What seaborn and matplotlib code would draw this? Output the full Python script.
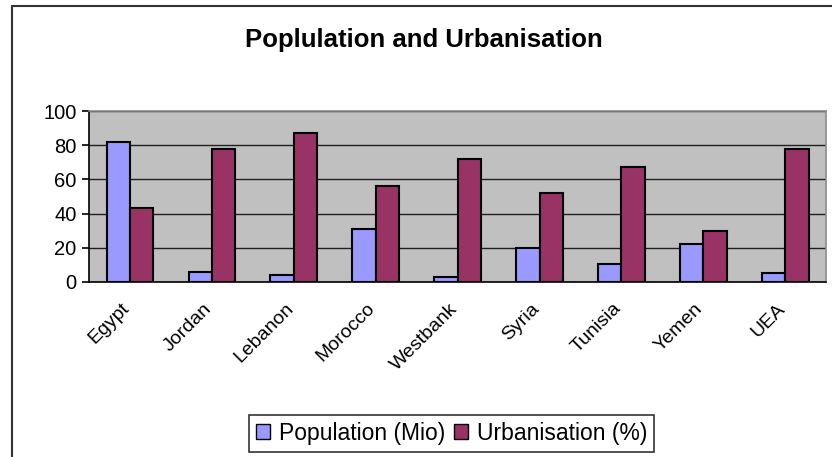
import matplotlib
matplotlib.use("Agg")
import matplotlib.pyplot as plt
import matplotlib.transforms as mtransforms
import seaborn as sns
import numpy as np
import pandas as pd
from matplotlib.patches import Patch
from matplotlib.lines import Line2D

# values
countries = ['Egypt', 'Jordan', 'Lebanon', 'Morocco', 'Westbank', 'Syria', 'Tunisia', 'Yemen', 'UEA']
population = [82, 6, 4, 31, 3, 20, 10.5, 22, 5]
urbanisation = [43, 78, 87, 56, 72, 52, 67, 30, 78]
series_names = ['Population (Mio)', 'Urbanisation (%)']
colors = ['#9999FF', '#993366']

df = pd.DataFrame({
    'country': countries * 2,
    'series': [series_names[0]] * len(countries) + [series_names[1]] * len(countries),
    'value': population + urbanisation,
})

sns.set_style('white')
plt.rcParams['font.family'] = ['Liberation Sans', 'DejaVu Sans']
plt.rcParams['text.color'] = 'black'
plt.rcParams['xtick.color'] = 'black'
plt.rcParams['ytick.color'] = 'black'
plt.rcParams['xtick.labelcolor'] = 'black'
plt.rcParams['ytick.labelcolor'] = 'black'

fig = plt.figure(figsize=(8.32, 4.57), dpi=100)
ax = fig.add_axes([0.107, 0.383, 0.886, 0.374])

sns.barplot(data=df, x='country', y='value', hue='series', palette=colors,
            saturation=1, edgecolor='black', linewidth=1.5, width=0.57, gap=0,
            ax=ax, legend=False, zorder=3)

ax.set_facecolor('#C0C0C0')
ax.set_ylim(0, 100)
ax.set_xlim(-0.5, len(countries) - 0.5)
ax.set_yticks([0, 20, 40, 60, 80, 100])
ax.yaxis.grid(True, color='#202020', linewidth=1, zorder=0)
ax.set_axisbelow(True)
ax.set_xlabel('')
ax.set_ylabel('')

for s in ['top', 'right']:
    ax.spines[s].set_color('#8C8C8C')
    ax.spines[s].set_linewidth(1.2)
for s in ['left', 'bottom']:
    ax.spines[s].set_color('black')
    ax.spines[s].set_linewidth(1.2)

# ticks at category boundaries, labels at centres
ax.set_xticks(np.arange(len(countries)))
ax.set_xticklabels(countries, rotation=45, ha='right', rotation_mode='anchor', fontsize=14)
ax.set_xticks(np.arange(len(countries) + 1) - 0.5, minor=True)
ax.tick_params(axis='x', which='major', length=0, pad=13)
ax.tick_params(axis='x', which='minor', length=6, width=1.2, direction='out', color='black')
ax.tick_params(axis='y', length=5, width=1.2, direction='out', color='black', labelsize=14.5, pad=4, left=True)
shift = mtransforms.ScaledTranslation(-9 / 100, 0, fig.dpi_scale_trans)
for lab in ax.get_xticklabels():
    lab.set_transform(lab.get_transform() + shift)

fig.suptitle('Poplulation and Urbanisation', x=0.51, y=1 - 40 / 457, va='center',
             fontsize=18.5, fontweight='bold', color='black')

handles = [Patch(facecolor=c, edgecolor='black', linewidth=1) for c in colors]
leg = fig.legend(handles, series_names, loc='center', bbox_to_anchor=(0.543, 0.052),
                 ncol=2, fontsize=16.5, frameon=True, fancybox=False, edgecolor='black',
                 handlelength=0.6, handleheight=0.6, handletextpad=0.4, columnspacing=0.4,
                 borderpad=0.3)
leg.get_frame().set_linewidth(1.2)

# outer chart frame (top and left edges visible)
fig.add_artist(Line2D([12 / 832, 1], [1 - 6 / 457, 1 - 6 / 457], color='#333333', linewidth=1.5))
fig.add_artist(Line2D([12 / 832, 12 / 832], [0, 1 - 6 / 457], color='#333333', linewidth=1.5))

fig.savefig('out.png', dpi=100)
